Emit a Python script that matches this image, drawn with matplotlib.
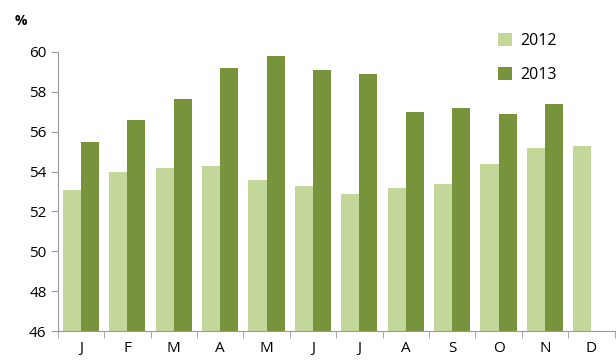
import matplotlib.pyplot as plt
import numpy as np

months = ["J", "F", "M", "A", "M", "J", "J", "A", "S", "O", "N", "D"]
vals_2012 = [53.1, 54.0, 54.2, 54.3, 53.6, 53.3, 52.9, 53.2, 53.4, 54.4, 55.2, 55.3]
vals_2013 = [55.5, 56.57, 57.66, 59.2, 59.78, 59.1, 58.88, 57.0, 57.2, 56.9, 57.4, np.nan]

plt.rcParams['font.family'] = ['Open Sans', 'DejaVu Sans']

fig = plt.figure(figsize=(6.16, 3.61), dpi=100)
ax = fig.add_axes([0.0937, 0.083, 0.904, 0.773])

x = np.arange(len(months))
w = 0.39
ax.bar(x - w / 2, vals_2012, w, color="#C4D79B", label="2012", zorder=2)
ax.bar(x + w / 2, vals_2013, w, color="#77933C", label="2013", zorder=2)

ax.set_ylim(46, 60)
ax.set_xlim(-0.5, 11.5)
ax.set_yticks(np.arange(46, 61, 2))
ax.set_xticks(x)
ax.set_xticklabels(months)
ax.set_xticks(np.arange(-0.5, 12, 1), minor=True)
ax.tick_params(axis="x", which="major", length=0, pad=7, labelsize=11)
ax.tick_params(axis="x", which="minor", length=5, color="#999999", direction="out")
ax.tick_params(axis="y", length=5, color="#999999", labelsize=11, pad=3)

for s in ["top", "right"]:
    ax.spines[s].set_visible(False)
for s in ["left", "bottom"]:
    ax.spines[s].set_color("#999999")

fig.text(0.024, 0.93, "%", fontsize=10, fontweight="bold")

ax.legend(loc="upper left", bbox_to_anchor=(0.765, 1.12), frameon=False,
          fontsize=11.5, handlelength=0.9, handleheight=0.9, labelspacing=1.1,
          handletextpad=0.5)

fig.savefig("out.png", dpi=100)
